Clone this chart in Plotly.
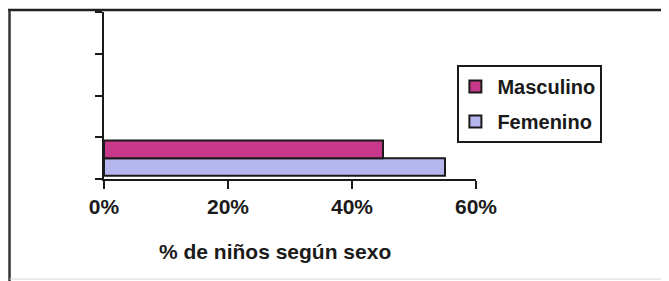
import plotly.graph_objects as go

categories = ["g1", "g2", "g3", "g4"]
series_names = ["Femenino", "Masculino"]
femenino = [55, None, None, None]
masculino = [45, None, None, None]
x_ticks = [0, 20, 40, 60]
x_tick_labels = ["0%", "20%", "40%", "60%"]
x_title = "% de niños según sexo"

FONT = "Liberation Sans, Arial"

fig = go.Figure()
fig.add_trace(go.Bar(y=categories, x=femenino, name=series_names[0], orientation="h",
                     legendgroup="f", legendrank=2,
                     marker=dict(color="#B6B6EE", line=dict(color="#1a1a1a", width=2))))
fig.add_trace(go.Bar(y=categories, x=masculino, name=series_names[1], orientation="h",
                     legendgroup="m", legendrank=1,
                     marker=dict(color="#C8388A", line=dict(color="#1a1a1a", width=2))))

fig.update_layout(
    width=661, height=273,
    margin=dict(l=96, r=193, t=4, b=102),
    paper_bgcolor="white", plot_bgcolor="white",
    barmode="group", bargap=0.16, bargroupgap=0.0,
    font=dict(family=FONT, color="#1a1a1a"),
    showlegend=True,
    legend=dict(x=0.95, xanchor="left", y=0.683, yanchor="top", xref="paper", yref="paper",
                traceorder="grouped", bordercolor="#1a1a1a", borderwidth=2,
                font=dict(size=20, family=FONT, weight="bold"),
                itemsizing="constant", tracegroupgap=6, bgcolor="white",
                itemwidth=34, indentation=-6),
    xaxis=dict(range=[0, 60], tickvals=x_ticks, ticktext=x_tick_labels,
               showgrid=False, zeroline=False, showline=True, linecolor="#1a1a1a", linewidth=2,
               ticks="outside", ticklen=8, tickwidth=2, tickcolor="#1a1a1a",
               tickfont=dict(size=21, weight="bold", family=FONT), fixedrange=True),
    yaxis=dict(categoryorder="array", categoryarray=categories, range=[-0.5, 3.5],
               showticklabels=False, showgrid=False, zeroline=False,
               showline=True, linecolor="#1a1a1a", linewidth=2,
               ticks="outside", tickson="boundaries", ticklen=7, tickwidth=2, tickcolor="#1a1a1a"),
    annotations=[dict(text=x_title, xref="paper", yref="paper", x=0.46, y=-0.437,
                      xanchor="center", yanchor="middle", showarrow=False,
                      font=dict(size=21, weight="bold", family=FONT))],
    shapes=[
        dict(type="line", xref="paper", yref="paper", x0=-0.26, x1=1.6, y0=1.012, y1=1.012,
             line=dict(color="#222", width=2.5)),
        dict(type="line", xref="paper", yref="paper", x0=-0.254, x1=-0.254, y0=1.012, y1=-0.62,
             line=dict(color="#333", width=2.5)),
        dict(type="line", xref="paper", yref="paper", x0=-0.254, x1=1.6, y0=-0.599, y1=-0.599,
             line=dict(color="#d8d8d8", width=1)),
    ],
)

fig.write_html("out.html")
